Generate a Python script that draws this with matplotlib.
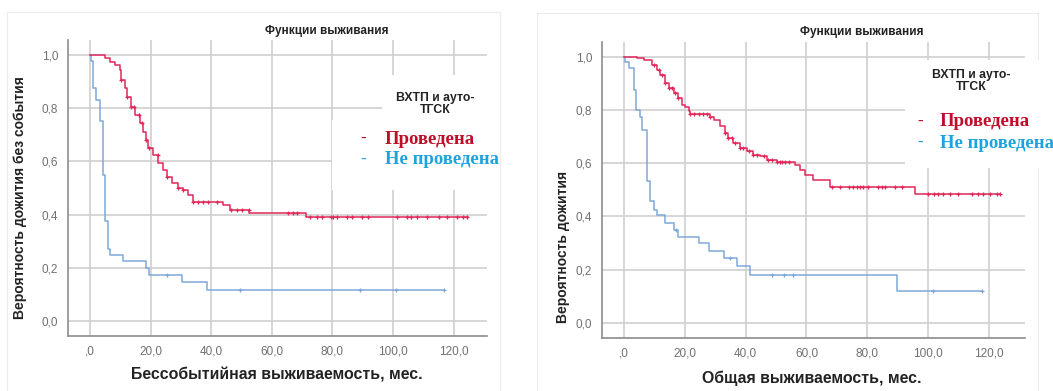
import numpy as np
import matplotlib
matplotlib.use("Agg")
import matplotlib.pyplot as plt
from matplotlib.patches import Rectangle

# ---- data ----
# event-free survival, transplant done (red)
efs_yes_t = [0, 5, 6.6, 8.2, 9.7, 10.2, 11.5, 12.1, 13.4, 14.9, 16.5, 17.6, 18.5, 19.2, 20.9,
             22.5, 24.2, 25.3, 26.9, 29.1, 30.8, 32.4, 33.9, 44.0, 46.2, 52.6, 71.3, 124.8]
efs_yes_s = [1.0, 0.988, 0.975, 0.962, 0.944, 0.906, 0.875, 0.84, 0.806, 0.775, 0.743, 0.712, 0.68,
             0.649, 0.624, 0.593, 0.568, 0.543, 0.518, 0.499, 0.493, 0.474, 0.449, 0.436, 0.418,
             0.405, 0.392, 0.392]
efs_yes_cens = [10.2, 12.1, 13.4, 14.5, 16.3, 17.05, 18.5, 19.3, 22.3, 25.3, 29.1, 30.8, 34.1, 35.7,
                37.4, 39.0, 41.8, 46.4, 48.4, 50.1, 52.3, 65.3, 67, 68.4, 72.6, 74.8, 76.5, 79.5,
                80.3, 81.4, 84.7, 86.3, 89.7, 91.8, 101.2, 104.5, 105.8, 107.8, 111.1, 115, 117.7,
                121, 123.2, 124.3]
# event-free survival, not done (blue)
efs_no_t = [0, 0.4, 1.1, 2.0, 3.1, 4.1, 5.0, 6.0, 6.6, 11.0, 18.5, 19.3, 30.2, 38.5, 116.7]
efs_no_s = [1.0, 0.978, 0.875, 0.83, 0.75, 0.55, 0.375, 0.27, 0.25, 0.225, 0.2, 0.175, 0.146,
            0.117, 0.117]
efs_no_cens = [25.3, 49.5, 89, 101, 116.7]

# overall survival, transplant done (red)
os_yes_t = [0, 4.4, 6.6, 9.3, 10.9, 12, 13.7, 14.8, 16.4, 18, 19.1, 20.2, 21.3, 21.9, 28.4, 29.5,
            31.7, 33.3, 34.4, 36, 38.2, 40.4, 42.6, 44.8, 46.9, 50.3, 56.3, 58, 59.6, 62.1, 67.6,
            95.6, 123.5]
os_yes_s = [1.0, 0.994, 0.988, 0.969, 0.95, 0.931, 0.9, 0.881, 0.862, 0.844, 0.819, 0.812, 0.794,
            0.785, 0.775, 0.763, 0.738, 0.713, 0.694, 0.675, 0.656, 0.644, 0.631, 0.625, 0.613,
            0.606, 0.594, 0.575, 0.556, 0.537, 0.512, 0.484, 0.484]
os_yes_cens = [9.8, 11.5, 12.6, 13.7, 14.8, 15.9, 16.9, 18.0, 21.9, 23.0, 24.6, 26.2, 27.3, 28.4,
               33.3, 34.4, 35.5, 36.6, 38.2, 39.3, 41.0, 42.6, 43.7, 45.9, 47.5, 48.6, 50.3, 51.4,
               52.0, 53.0, 54.1, 68.3, 71, 73.8, 75.4, 76.5, 77.6, 78.7, 80.3, 83.6, 84.7, 85.8,
               89.1, 91.3, 100, 101.7, 103.3, 104.9, 107.1, 109.8, 114.2, 116.4, 118, 120.2,
               122.4, 123.5]
# overall survival, not done (blue)
os_no_t = [0, 0.3, 1.65, 3.3, 4.2, 5.5, 6.0, 7.65, 8.75, 9.8, 10.9, 13.7, 16.4, 18.0, 24.6, 27.9,
           32.8, 37.2, 41.5, 89.6, 117.5]
os_no_s = [1.0, 0.981, 0.956, 0.875, 0.8, 0.775, 0.725, 0.531, 0.456, 0.425, 0.406, 0.375, 0.35,
           0.322, 0.30, 0.268, 0.243, 0.212, 0.18, 0.118, 0.118]
os_no_cens = [17.3, 35.0, 48.6, 52.5, 55.5, 101.6, 117.5]

x_ticks = [0, 20, 40, 60, 80, 100, 120]
x_ticklabels = [",0", "20,0", "40,0", "60,0", "80,0", "100,0", "120,0"]
y_ticks = [0, 0.2, 0.4, 0.6, 0.8, 1.0]
y_ticklabels = ["0,0", "0,2", "0,4", "0,6", "0,8", "1,0"]

RED = "#e0285a"
BLUE = "#7ea8d8"
W, H = 1053, 391


def fx(px):
    return px / W


def fy(py):
    return 1 - py / H


def km(ax, t, s, cens, color):
    ax.step(t, s, where="post", color=color, lw=1.1, zorder=3)
    t = np.asarray(t)
    s = np.asarray(s)
    idx = np.searchsorted(t, cens, side="right") - 1
    ax.plot(cens, s[idx], ls="none", marker="+", ms=3.5, mew=0.9, color=color, zorder=4)


fig = plt.figure(figsize=(W / 100, H / 100), dpi=100)
fig.patch.set_facecolor("white")

panels = [
    # axes box (left, top, right, bottom) in px, xlim, ylim
    dict(box=(68, 40, 487, 336), xlim=(-7.3, 131), ylim=(-0.056, 1.056),
         red=(efs_yes_t, efs_yes_s, efs_yes_cens), blue=(efs_no_t, efs_no_s, efs_no_cens),
         xlabel="Бессобытийная выживаемость, мес.", xlab_c=(277, 375),
         ylabel="Вероятность дожития без события", ylab_c=(20, 198),
         title_c=(327, 31), frame=(7, 12, 500, 395)),
    dict(box=(602, 42, 1025, 338), xlim=(-7.1, 131.7), ylim=(-0.057, 1.055),
         red=(os_yes_t, os_yes_s, os_yes_cens), blue=(os_no_t, os_no_s, os_no_cens),
         xlabel="Общая выживаемость, мес.", xlab_c=(812, 378),
         ylabel="Вероятность дожития", ylab_c=(563, 247),
         title_c=(862, 32), frame=(537, 13, 1038, 395)),
]

for p in panels:
    l, t, r, b = p["frame"]
    fig.patches.append(Rectangle((fx(l), fy(b)), fx(r - l), (b - t) / H, transform=fig.transFigure,
                                 fill=False, ec="#ececec", lw=0.8, zorder=-1))
    l, t, r, b = p["box"]
    ax = fig.add_axes([fx(l), fy(b), fx(r - l), (b - t) / H])
    ax.set_xlim(*p["xlim"])
    ax.set_ylim(*p["ylim"])
    ax.set_xticks(x_ticks, x_ticklabels)
    ax.set_yticks(y_ticks, y_ticklabels)
    ax.tick_params(length=0, labelsize=8.5, labelcolor="#707070", pad=7)
    for lab in ax.get_xticklabels() + ax.get_yticklabels():
        lab.set_fontfamily("Liberation Sans")
    ax.grid(True, color="#cfcfcf", lw=1.2)
    ax.set_axisbelow(True)
    for side in ["top", "right"]:
        ax.spines[side].set_visible(False)
    for side in ["left", "bottom"]:
        ax.spines[side].set_color("#8c8c8c")
        ax.spines[side].set_linewidth(1.2)
    km(ax, *p["blue"], BLUE)
    km(ax, *p["red"], RED)

    fig.text(fx(p["xlab_c"][0]), fy(p["xlab_c"][1]), p["xlabel"], ha="center", va="center",
             fontsize=11.4, fontweight="bold", family="Liberation Sans", color="#222222")
    fig.text(fx(p["ylab_c"][0]), fy(p["ylab_c"][1]), p["ylabel"], ha="center", va="center",
             rotation=90, fontsize=10, fontweight="bold", family="Liberation Sans", color="#222222")
    fig.text(fx(p["title_c"][0]), fy(p["title_c"][1]), "Функции выживания", ha="center",
             va="center", fontsize=8.5, fontweight="bold", family="Liberation Sans", color="#222222")

# white boxes that hide the grid behind the legends
for (l, t, r, b) in [(382, 75, 497, 190), (332, 120, 497, 190), (905, 60, 1040, 168)]:
    fig.patches.append(Rectangle((fx(l), fy(b)), fx(r - l), (b - t) / H, transform=fig.transFigure,
                                 fc="white", ec="none", zorder=5))

legend_pos = [
    dict(title=(435, 104), dash=363, text=385, y1=139, y2=160),
    dict(title=(971, 81), dash=920, text=940, y1=122, y2=143),
]
for lp in legend_pos:
    fig.text(fx(lp["title"][0]), fy(lp["title"][1]), "ВХТП и ауто-\nТГСК", ha="center",
             va="center", fontsize=8.8, fontweight="bold", family="Liberation Sans",
             color="#222222", linespacing=1.0, zorder=6)
    for y, label, col in [(lp["y1"], "Проведена", "#c00d2a"), (lp["y2"], "Не проведена", "#1fa3de")]:
        fig.text(fx(lp["dash"]), fy(y), "-", ha="center", va="center", fontsize=12,
                 fontweight="bold", family="Liberation Serif", color=col, zorder=6)
        fig.text(fx(lp["text"]), fy(y), label, ha="left", va="center", fontsize=13.5,
                 fontweight="bold", family="Liberation Serif", color=col, zorder=6)

fig.savefig("out.png", dpi=100)
